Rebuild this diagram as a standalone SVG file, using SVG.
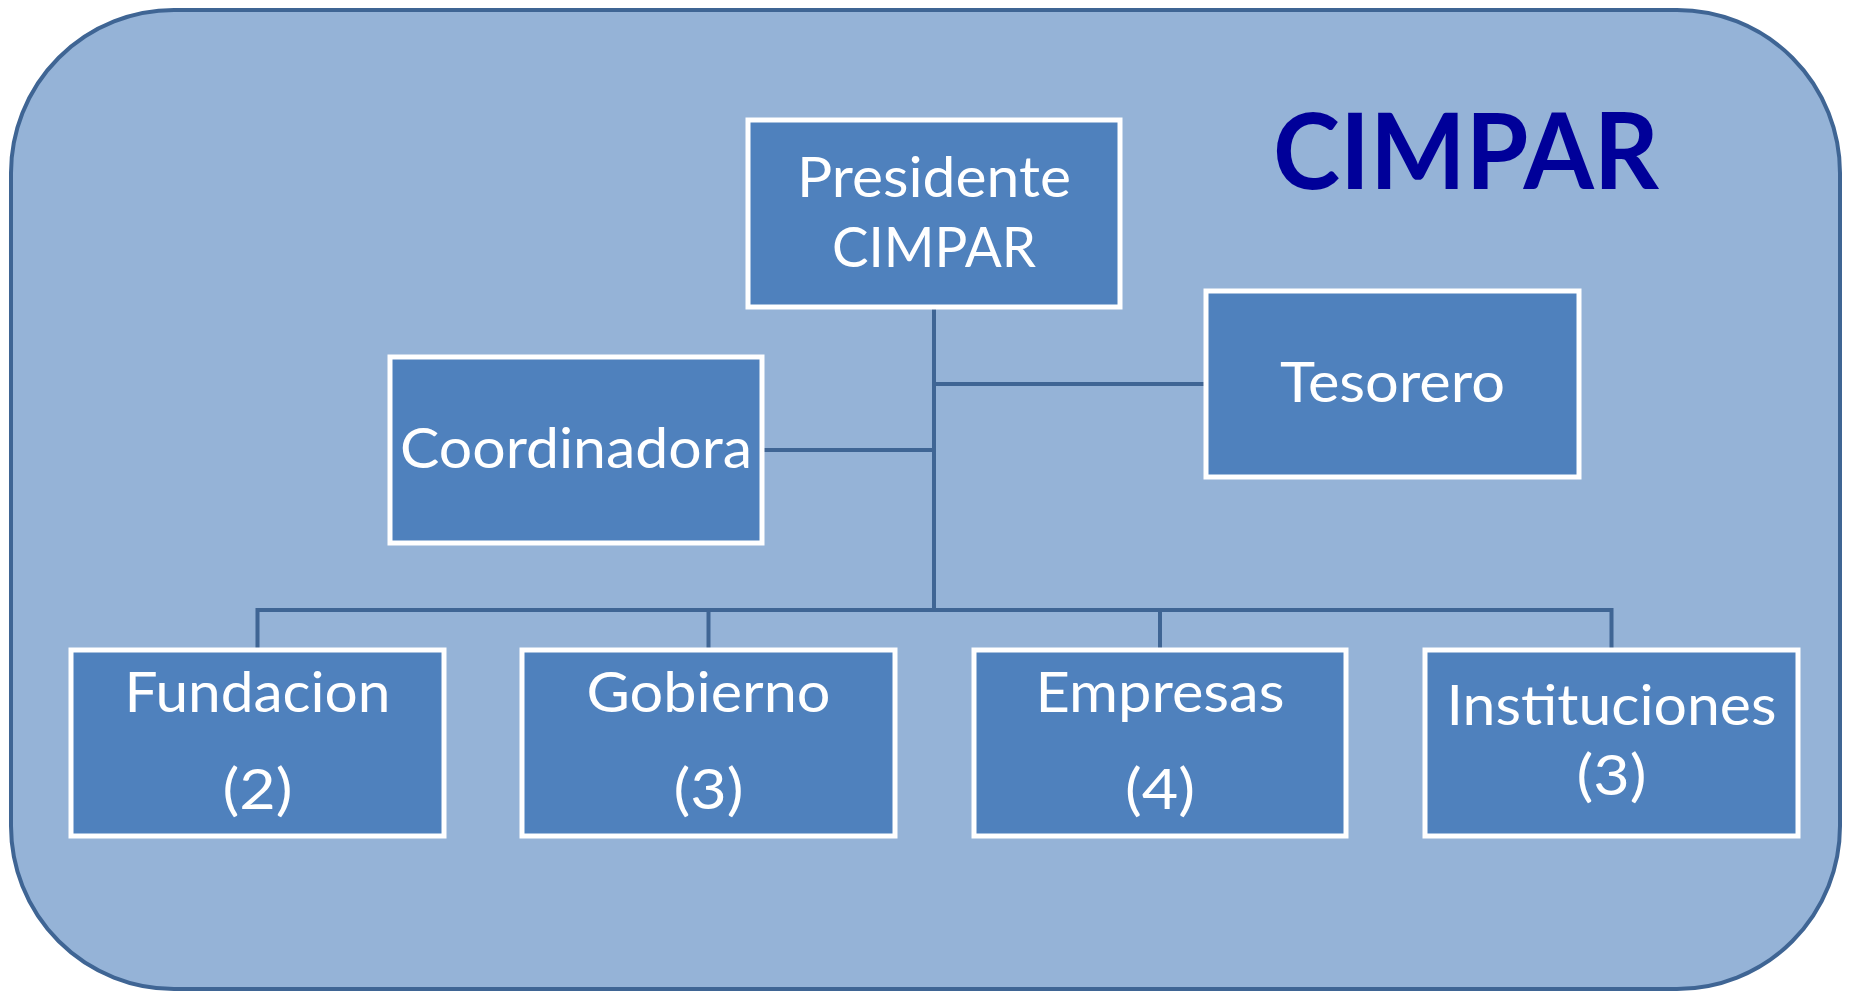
<svg xmlns="http://www.w3.org/2000/svg" width="1852" height="992" viewBox="0 0 1852 992">
<style>
.bg{fill:#95B3D7;stroke:#3F6594;stroke-width:4}
.box{fill:#4F81BD;stroke:#FFFFFF;stroke-width:5}
.lbl{font-family:Lato,"Liberation Sans",sans-serif;font-size:56px;fill:#FFFFFF;text-anchor:middle}
.conn{stroke:#3F6594;stroke-width:4;fill:none}
.title{font-family:Lato,"Liberation Sans",sans-serif;font-weight:bold;font-size:105px;fill:#000099;text-anchor:middle}
</style>
<rect class="bg" x="11" y="10" width="1829" height="979" rx="163" ry="163"/>
<text class="title" x="1466" y="189" textLength="386" lengthAdjust="spacingAndGlyphs">CIMPAR</text>
<g id="connectors">
<path class="conn" d="M934 309 V610"/>
<path class="conn" d="M934 384 H1206"/>
<path class="conn" d="M762 450 H934"/>
<path class="conn" d="M257.5 650 V610 H1611.5 V650"/>
<path class="conn" d="M708.5 610 V650"/>
<path class="conn" d="M1160 610 V650"/>
</g>
<g id="presidente">
<rect class="box" x="748" y="120" width="372" height="187"/>
<text class="lbl" x="934" y="197" textLength="274" lengthAdjust="spacingAndGlyphs">Presidente</text>
<text class="lbl" x="934" y="267" textLength="204" lengthAdjust="spacingAndGlyphs">CIMPAR</text>
</g>
<g id="coordinadora">
<rect class="box" x="390" y="357" width="372" height="186"/>
<text class="lbl" x="576" y="468" textLength="352" lengthAdjust="spacingAndGlyphs">Coordinadora</text>
</g>
<g id="tesorero">
<rect class="box" x="1206" y="291" width="373" height="186"/>
<text class="lbl" x="1392.5" y="402" textLength="225" lengthAdjust="spacingAndGlyphs">Tesorero</text>
</g>
<g id="fundacion">
<rect class="box" x="71" y="650" width="373" height="186"/>
<text class="lbl" x="257.5" y="712" textLength="266" lengthAdjust="spacingAndGlyphs">Fundacion</text>
<text class="lbl" x="257.5" y="809" textLength="70" lengthAdjust="spacingAndGlyphs">(2)</text>
</g>
<g id="gobierno">
<rect class="box" x="522" y="650" width="373" height="186"/>
<text class="lbl" x="708.5" y="712" textLength="244" lengthAdjust="spacingAndGlyphs">Gobierno</text>
<text class="lbl" x="708.5" y="809" textLength="70" lengthAdjust="spacingAndGlyphs">(3)</text>
</g>
<g id="empresas">
<rect class="box" x="974" y="650" width="372" height="186"/>
<text class="lbl" x="1160" y="712" textLength="249" lengthAdjust="spacingAndGlyphs">Empresas</text>
<text class="lbl" x="1160" y="809" textLength="70" lengthAdjust="spacingAndGlyphs">(4)</text>
</g>
<g id="instituciones">
<rect class="box" x="1425" y="650" width="373" height="186"/>
<text class="lbl" x="1611.5" y="725" textLength="330" lengthAdjust="spacingAndGlyphs">Instituciones</text>
<text class="lbl" x="1611.5" y="795" textLength="70" lengthAdjust="spacingAndGlyphs">(3)</text>
</g>
</svg>
